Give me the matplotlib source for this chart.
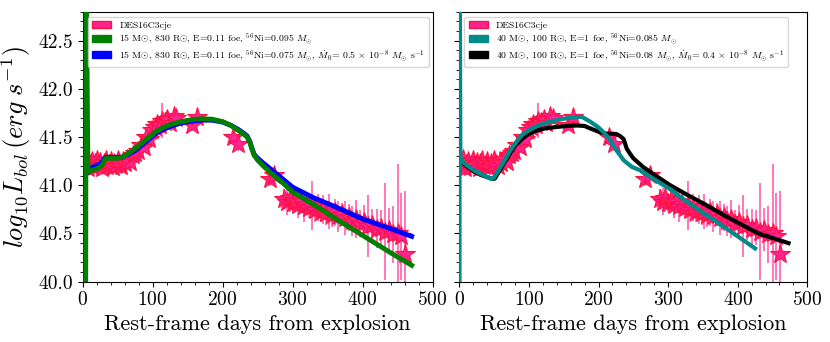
import matplotlib
matplotlib.use("Agg")
import matplotlib.pyplot as plt
import matplotlib.patches as mpatches
from matplotlib.ticker import AutoMinorLocator

plt.rcParams['font.family'] = 'serif'
plt.rcParams['font.serif'] = ['cmr10']
plt.rcParams['mathtext.fontset'] = 'cm'
plt.rcParams['axes.formatter.use_mathtext'] = True

# DES16C3cje bolometric light curve (rest-frame days, log10 L)
obs_days = [2, 4, 6, 8, 10, 13, 15, 18, 20, 23, 25, 28, 30, 33, 35, 38, 40, 43, 45, 48,
            50, 53, 55, 58, 60, 64, 68, 72, 75, 79, 83, 87, 91, 95, 99, 103, 106, 110, 113,
            117, 121, 125, 130, 134, 156, 163, 215, 222, 267, 274,
            288, 292, 296, 300, 304, 308, 312, 316, 320, 324, 328, 332, 336, 340, 344, 348,
            352, 356, 360, 365, 370, 375, 380, 385, 390, 396, 402, 408, 414, 420, 426, 432,
            438, 444, 450, 455, 461]
obs_lum = [41.24, 41.20, 41.27, 41.18, 41.22, 41.25, 41.19, 41.23, 41.26, 41.21, 41.24, 41.18,
           41.23, 41.26, 41.20, 41.22, 41.25, 41.19, 41.23, 41.21, 41.26, 41.22, 41.20, 41.25,
           41.23, 41.27, 41.24, 41.31, 41.33, 41.36, 41.42, 41.40, 41.50, 41.48, 41.57, 41.60,
           41.64, 41.62, 41.67, 41.66, 41.69, 41.65, 41.72, 41.70, 41.62, 41.71, 41.50, 41.43,
           41.06, 41.11,
           40.86, 40.83, 40.87, 40.82, 40.85, 40.80, 40.84, 40.78, 40.81, 40.76, 40.79, 40.74,
           40.77, 40.72, 40.75, 40.71, 40.73, 40.69, 40.72, 40.68, 40.70, 40.66, 40.67, 40.63,
           40.65, 40.60, 40.62, 40.58, 40.59, 40.55, 40.56, 40.52, 40.54, 40.49, 40.50, 40.47,
           40.29]
obs_err = [0.04, 0.04, 0.05, 0.04, 0.05, 0.04, 0.04, 0.05, 0.04, 0.04, 0.05, 0.04, 0.04, 0.05,
           0.04, 0.04, 0.05, 0.04, 0.04, 0.05, 0.04, 0.04, 0.05, 0.04, 0.04, 0.05, 0.05, 0.05,
           0.06, 0.05, 0.06, 0.05, 0.06, 0.05, 0.06, 0.07, 0.06, 0.08, 0.18, 0.07, 0.08, 0.06,
           0.07, 0.06, 0.06, 0.07, 0.06, 0.07, 0.07, 0.06,
           0.10, 0.14, 0.15, 0.10, 0.12, 0.14, 0.10, 0.16, 0.12, 0.10, 0.25, 0.12, 0.14, 0.10,
           0.15, 0.12, 0.18, 0.12, 0.14, 0.16, 0.12, 0.18, 0.14, 0.16, 0.20, 0.14, 0.18, 0.32,
           0.16, 0.20, 0.18, 0.50, 0.22, 0.30, 0.72, 0.45, 0.65]

# left panel models
green_days = [4.3, 4.8, 7.5, 10, 15, 20, 25, 29, 31, 33, 40, 50, 56, 65, 75, 85, 95, 105, 115,
              125, 140, 155, 170, 185, 200, 212, 222, 230, 235, 239, 242, 245, 250, 258, 270,
              285, 300, 330, 360, 400, 440, 470]
green_lum = [39.5, 43.5, 41.15, 41.14, 41.16, 41.17, 41.19, 41.22, 41.26, 41.28, 41.28, 41.28,
             41.29, 41.33, 41.38, 41.44, 41.50, 41.56, 41.60, 41.63, 41.66, 41.68, 41.69,
             41.685, 41.66, 41.62, 41.57, 41.53, 41.50, 41.44, 41.37, 41.31, 41.26, 41.20,
             41.12, 41.03, 40.93, 40.80, 40.66, 40.48, 40.30, 40.17]
blue_days = [8, 10, 15, 20, 25, 29, 31, 33, 40, 50, 56, 65, 75, 85, 95, 105, 115, 125, 140,
             155, 170, 185, 200, 212, 222, 230, 235, 239, 242, 245, 250, 258, 270, 285, 300,
             330, 360, 400, 440, 470]
blue_lum = [41.14, 41.17, 41.19, 41.21, 41.22, 41.25, 41.28, 41.29, 41.29, 41.29, 41.29, 41.32,
            41.36, 41.42, 41.48, 41.54, 41.58, 41.61, 41.645, 41.665, 41.675, 41.675, 41.655,
            41.62, 41.58, 41.54, 41.51, 41.45, 41.38, 41.32, 41.28, 41.23, 41.16, 41.07, 40.98,
            40.87, 40.78, 40.65, 40.55, 40.47]

# right panel models
teal_days = [0.2, 0.5, 1.5, 8, 20, 30, 42, 46.5, 50, 55, 61, 68, 75, 82, 90, 100, 113, 125,
             137, 150, 165, 176, 188, 200, 207, 216, 224, 236, 248, 260, 280, 305, 317, 351,
             380, 400, 425]
teal_lum = [39.5, 43.5, 41.28, 41.22, 41.16, 41.12, 41.08, 41.065, 41.08, 41.14, 41.21, 41.30,
            41.38, 41.45, 41.52, 41.57, 41.62, 41.65, 41.67, 41.69, 41.705, 41.71, 41.66,
            41.60, 41.55, 41.48, 41.38, 41.26, 41.19, 41.155, 41.06, 40.95, 40.88, 40.71,
            40.57, 40.47, 40.345]
black_days = [0.5, 8, 20, 30, 42, 48, 51, 56, 61, 66, 73, 80, 90, 99, 110, 123, 140, 155, 169,
              180, 188, 202, 212, 220, 226, 231, 236, 240.5, 245, 250, 264, 280, 303, 330, 351,
              375, 398, 430, 473]
black_lum = [41.27, 41.21, 41.15, 41.11, 41.08, 41.065, 41.07, 41.13, 41.19, 41.25, 41.33,
             41.41, 41.48, 41.53, 41.565, 41.59, 41.605, 41.615, 41.62, 41.615, 41.59, 41.55,
             41.535, 41.535, 41.53, 41.51, 41.48, 41.38, 41.33, 41.28, 41.19, 41.11, 41.0,
             40.89, 40.81, 40.71, 40.62, 40.50, 40.40]

obs_label = 'DES16C3cje'
green_label = r'15 M$\odot$, 830 R$\odot$, E=0.11 foe, $^{56}$Ni=0.095 $M_{\odot}$'
blue_label = (r'15 M$\odot$, 830 R$\odot$, E=0.11 foe, $^{56}$Ni=0.075 $M_{\odot}$, '
              r'$\dot{M}_0$= 0.5 $\times$ 10$^{-8}$ $M_{\odot}$ s$^{-1}$')
teal_label = r'40 M$\odot$, 100 R$\odot$, E=1 foe, $^{56}$Ni=0.085 $M_{\odot}$'
black_label = (r'40 M$\odot$, 100 R$\odot$, E=1 foe, $^{56}$Ni=0.08 $M_{\odot}$, '
               r'$\dot{M}_0$= 0.4 $\times$ 10$^{-8}$ $M_{\odot}$ s$^{-1}$')

star_face = '#ff2490'
star_edge = '#ff1040'
err_col = '#ff5fae'

fig = plt.figure(figsize=(8.3, 3.42), dpi=100)
ax1 = fig.add_axes([0.0996, 0.1763, 0.4217, 0.7895])
ax2 = fig.add_axes([0.5534, 0.1763, 0.4193, 0.7895])


def draw_obs(ax):
    ax.errorbar(obs_days, obs_lum, yerr=obs_err, fmt='*', ms=15, mfc=star_face,
                mec=star_edge, mew=0.8, ecolor=err_col, elinewidth=1.2, zorder=2)


leg_kw = dict(loc='upper left', fontsize=7, labelspacing=0.15, borderpad=0.45)

draw_obs(ax1)
ax1.plot(blue_days, blue_lum, color='blue', lw=3.5, zorder=3)
ax1.plot(green_days, green_lum, color='green', lw=3.5, zorder=4)
h1 = [mpatches.Patch(facecolor=star_face, edgecolor=star_edge, label=obs_label),
      mpatches.Patch(facecolor='green', edgecolor='green', label=green_label),
      mpatches.Patch(facecolor='blue', edgecolor='blue', label=blue_label)]
ax1.legend(handles=h1, **leg_kw)

draw_obs(ax2)
ax2.plot(black_days, black_lum, color='black', lw=3, zorder=3)
ax2.plot(teal_days, teal_lum, color='darkcyan', lw=3, zorder=4)
h2 = [mpatches.Patch(facecolor=star_face, edgecolor=star_edge, label=obs_label),
      mpatches.Patch(facecolor='darkcyan', edgecolor='darkcyan', label=teal_label),
      mpatches.Patch(facecolor='black', edgecolor='black', label=black_label)]
ax2.legend(handles=h2, **leg_kw)

for ax in (ax1, ax2):
    ax.set_xlim(0, 500)
    ax.set_ylim(40, 42.8)
    ax.set_xticks([0, 100, 200, 300, 400, 500])
    ax.set_yticks([40.0, 40.5, 41.0, 41.5, 42.0, 42.5])
    ax.xaxis.set_minor_locator(AutoMinorLocator())
    ax.yaxis.set_minor_locator(AutoMinorLocator())
    ax.tick_params(labelsize=14)
    ax.set_xlabel('Rest-frame days from explosion', fontsize=16)

ax1.set_yticklabels(['40.0', '40.5', '41.0', '41.5', '42.0', '42.5'])
ax2.set_yticklabels([])
ax1.set_ylabel(r'$log_{10}L_{bol}\,(erg\;s^{-1})$', fontsize=19)

fig.savefig('out.png', dpi=100)
